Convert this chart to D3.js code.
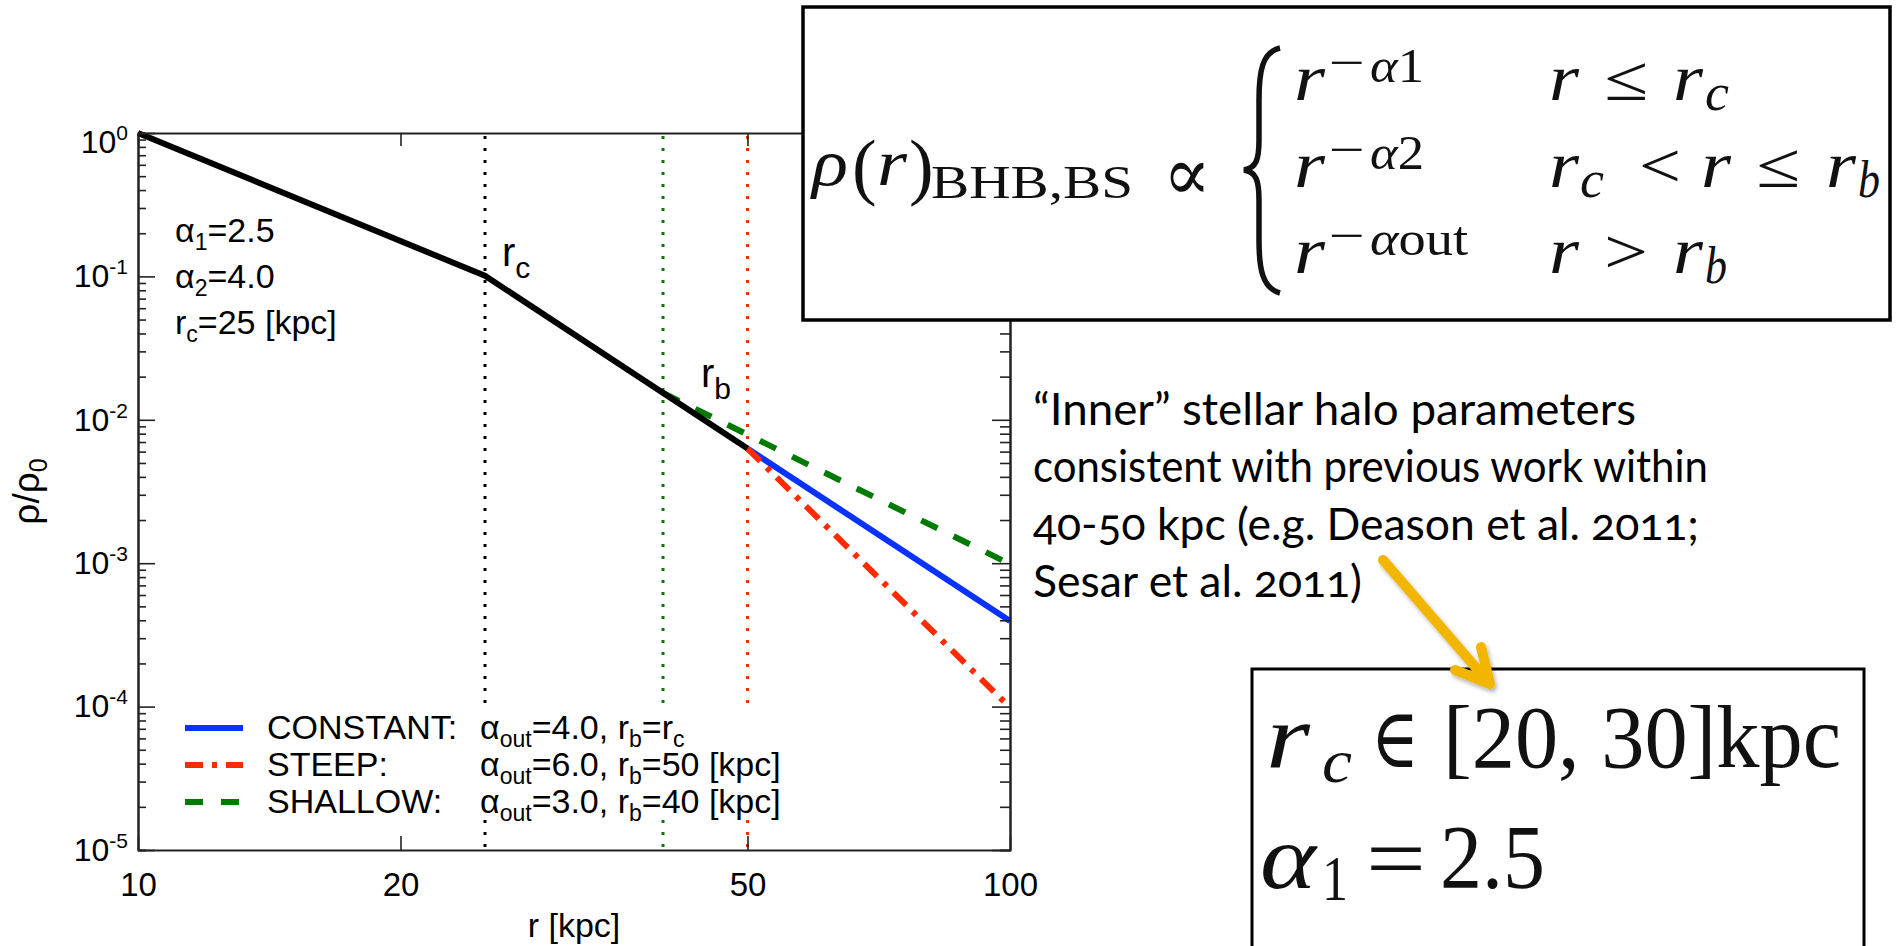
<!DOCTYPE html>
<meta charset="utf-8">
<script src="https://d3js.org/d3.v7.min.js"></script>
<style>
  body { margin: 0; background: #fff; }
  svg { display: block; }
  .sans { font-family: "Liberation Sans", Arial, sans-serif; fill: #000; }
  .math { font-family: "Liberation Serif", "DejaVu Serif", serif; fill: #111; }
  .note { font-family: Lato, "Open Sans", sans-serif; font-variant-numeric: oldstyle-nums; fill: #000; }
</style>
<div id="chart"></div>
<script>

// density profile pieces (r in kpc, rho / rho0)
const innerProfile  = [{r: 10, rho: 1}, {r: 25, rho: 0.101}, {r: 50, rho: 0.0063}];
const constantOuter = [{r: 50, rho: 0.0063}, {r: 100, rho: 0.000395}];
const steepOuter    = [{r: 50, rho: 0.0063}, {r: 100, rho: 0.0000985}];
const shallowOuter  = [{r: 40, rho: 0.0154}, {r: 100, rho: 0.000986}];

// break radii marked with dotted verticals
const breakRadii  = [25, 40, 50];
const breakColors = ["#000000", "#007a00", "#ff2a00"];

// axis ticks
const xTicks = [10, 20, 50, 100];
const yTicks = [1, 1e-1, 1e-2, 1e-3, 1e-4, 1e-5];
const yTickExp = ["0", "-1", "-2", "-3", "-4", "-5"];

// legend
const legendNames = ["CONSTANT:", "STEEP:", "SHALLOW:"];
const legendAlpha = ["4.0", "6.0", "3.0"];
const legendRb    = ["r_c", "50 [kpc]", "40 [kpc]"];
const legendColors = ["#0a32ff", "#ff2a00", "#007a00"];
const legendDash   = [null, "18,9,5,9", "18,18"];

// fit parameters written on the plot
const paramNames  = ["α|1", "α|2", "r|c"];
const paramValues = ["=2.5", "=4.0", "=25 [kpc]"];

// note text
const noteLines = [
  "\u201cInner\u201d stellar halo parameters",
  "consistent with previous work within",
  "40-50 kpc (e.g. Deason et al. 2011;",
  "Sesar et al. 2011)"
];

const W = 1900, H = 946;
const svg = d3.select("#chart").append("svg")
    .attr("width", W)
    .attr("height", H);

const x = d3.scaleLog().domain([10, 100]).range([138, 1010]);
const y = d3.scaleLog().domain([1e-5, 1]).range([850, 133]);

const plot = svg.append("g");

// dotted verticals at the break radii
plot.selectAll(".brk")
  .data(breakRadii)
  .join("line")
    .attr("x1", d => x(d)).attr("x2", d => x(d))
    .attr("y1", y(1) + 3).attr("y2", y(1e-5))
    .attr("stroke", (d, i) => breakColors[i])
    .attr("stroke-width", 3)
    .attr("stroke-dasharray", "3,9");

const line = d3.line().x(d => x(d.r)).y(d => y(d.rho));

plot.append("path").datum(constantOuter)
  .attr("d", line).attr("fill", "none")
  .attr("stroke", legendColors[0]).attr("stroke-width", 6);
plot.append("path").datum(steepOuter)
  .attr("d", line).attr("fill", "none")
  .attr("stroke", legendColors[1]).attr("stroke-width", 6)
  .attr("stroke-dasharray", legendDash[1]);
plot.append("path").datum(shallowOuter)
  .attr("d", line).attr("fill", "none")
  .attr("stroke", legendColors[2]).attr("stroke-width", 6)
  .attr("stroke-dasharray", legendDash[2]);
plot.append("path").datum(innerProfile)
  .attr("d", line).attr("fill", "none")
  .attr("stroke", "#000").attr("stroke-width", 6)
  .attr("stroke-linejoin", "round");

// legend (white box hides the dotted lines behind it)
const leg = plot.append("g");
leg.append("rect")
  .attr("x", 175).attr("y", 712).attr("width", 640).attr("height", 104)
  .attr("fill", "#fff");
legendNames.forEach((name, i) => {
  const ly = 728 + i * 37;
  leg.append("line")
    .attr("x1", 185).attr("x2", 243).attr("y1", ly).attr("y2", ly)
    .attr("stroke", legendColors[i]).attr("stroke-width", 6)
    .attr("stroke-dasharray", legendDash[i]);
  leg.append("text").attr("class", "sans")
    .attr("x", 267).attr("y", ly + 11).attr("font-size", 34)
    .text(name);
  const t = leg.append("text").attr("class", "sans")
    .attr("x", 480).attr("y", ly + 11).attr("font-size", 34);
  t.append("tspan").text("α");
  t.append("tspan").attr("font-size", 23).attr("dy", 8).text("out");
  t.append("tspan").attr("dy", -8).text("=" + legendAlpha[i] + ", r");
  t.append("tspan").attr("font-size", 23).attr("dy", 8).text("b");
  if (legendRb[i] === "r_c") {
    t.append("tspan").attr("dy", -8).text("=r");
    t.append("tspan").attr("font-size", 23).attr("dy", 8).text("c");
  } else {
    t.append("tspan").attr("dy", -8).text("=" + legendRb[i]);
  }
});

// fit parameters
paramNames.forEach((p, i) => {
  const [sym, sub] = p.split("|");
  const t = plot.append("text").attr("class", "sans")
    .attr("x", 175).attr("y", 242 + i * 46).attr("font-size", 34);
  t.append("tspan").text(sym);
  t.append("tspan").attr("font-size", 23).attr("dy", 8).text(sub);
  t.append("tspan").attr("dy", -8).text(paramValues[i]);
});

// r_c and r_b marks
function subLabel(px, py, main, sub) {
  const t = plot.append("text").attr("class", "sans")
    .attr("x", px).attr("y", py).attr("font-size", 40);
  t.append("tspan").text(main);
  t.append("tspan").attr("font-size", 30).attr("dy", 12).text(sub);
}
subLabel(x(25) + 17, y(0.101) - 10, "r", "c");
subLabel(x(40) + 38, y(0.0063) - 62, "r", "b");

// axes
const minorY = y.ticks().filter(d => !yTicks.includes(d));

const yLeft = plot.append("g").attr("transform", `translate(${x(10)},0)`);
yLeft.call(d3.axisLeft(y).tickValues(minorY).tickSize(-8).tickFormat(""));
yLeft.call(g => g.append("g").call(
  d3.axisLeft(y).tickValues(yTicks).tickSizeInner(-17).tickSizeOuter(0).tickPadding(10)
    .tickFormat(() => "10")));
yLeft.selectAll(".tick text")
  .attr("class", "sans").attr("font-size", 32).attr("fill", "#000")
  .each(function(d) {
    const i = yTicks.indexOf(d);
    if (i < 0) return;
    d3.select(this).append("tspan")
      .attr("font-size", 21).attr("dy", -13).text(yTickExp[i]);
    if (d === 1) d3.select(this).attr("y", 9);
  });

const yRight = plot.append("g").attr("transform", `translate(${x(100)},0)`);
yRight.call(d3.axisRight(y).tickValues(minorY).tickSize(-10).tickFormat(""));
yRight.call(g => g.append("g").call(
  d3.axisRight(y).tickValues(yTicks).tickSizeInner(-18).tickSizeOuter(0).tickFormat("")));

const xBottom = plot.append("g").attr("transform", `translate(0,${y(1e-5)})`);
xBottom.call(d3.axisBottom(x).tickValues(xTicks).tickSizeInner(-14).tickSizeOuter(0)
  .tickPadding(23).tickFormat(d3.format("d")));
xBottom.selectAll(".tick text")
  .attr("class", "sans").attr("font-size", 33).attr("fill", "#000");

const xTop = plot.append("g").attr("transform", `translate(0,${y(1)})`);
xTop.call(d3.axisTop(x).tickValues(xTicks).tickSizeInner(-13).tickSizeOuter(0).tickFormat(""));

plot.selectAll(".domain").attr("stroke", "#222").attr("stroke-width", 2);
plot.selectAll(".tick line").attr("stroke", "#222").attr("stroke-width", 1.6);

// axis titles
plot.append("text").attr("class", "sans")
  .attr("x", (x(10) + x(100)) / 2).attr("y", 937)
  .attr("text-anchor", "middle").attr("font-size", 34)
  .text("r [kpc]");
const yl = plot.append("text").attr("class", "sans")
  .attr("transform", `translate(39,${(y(1) + y(1e-5)) / 2}) rotate(-90)`)
  .attr("text-anchor", "middle").attr("font-size", 37);
yl.append("tspan").text("ρ/ρ");
yl.append("tspan").attr("font-size", 25).attr("dy", 8).text("0");

// ---------- formula box ----------
const fb = svg.append("g");
fb.append("rect")
  .attr("x", 803).attr("y", 7).attr("width", 1087).attr("height", 313)
  .attr("fill", "#fff").attr("stroke", "#000").attr("stroke-width", 3.5);

function m(g, px, py, str, size, opt = {}) {
  const t = g.append("text").attr("class", "math")
    .attr("x", px).attr("y", py).attr("font-size", size)
    .attr("font-style", opt.italic ? "italic" : "normal")
    .text(str);
  if (opt.len) t.attr("textLength", opt.len).attr("lengthAdjust", "spacingAndGlyphs");
  return t;
}

m(fb, 812, 185, "ρ", 66, {italic: true, len: 36});
m(fb, 852, 191, "(", 74);
m(fb, 877, 185, "r", 66, {italic: true, len: 30});
m(fb, 909, 191, ")", 74);
m(fb, 931, 198, "BHB,BS", 47, {len: 202});
m(fb, 1163, 200, "∝", 76, {len: 48});

fb.append("path")
  .attr("d", "M1280,48 C1262,52 1259,72 1259,100 L1259,140 C1259,160 1256,168 1244,170 " +
             "C1256,172 1259,180 1259,200 L1259,240 C1259,268 1262,288 1280,293")
  .attr("fill", "none").attr("stroke", "#111").attr("stroke-width", 5.5);

const rowBase = [100, 187, 273];
const rowExp  = ["1", "2", "out"];
const rowExpLen = [54, 54, 98];
rowBase.forEach((b, i) => {
  m(fb, 1294, b, "r", 66, {italic: true, len: 31});
  m(fb, 1329, b - 22, "−", 46, {len: 36});
  const t = m(fb, 1370, b - 18, "", 48, {len: rowExpLen[i]});
  t.append("tspan").attr("font-style", "italic").text("α");
  t.append("tspan").text(rowExp[i]);
});
// conditions
m(fb, 1549, 100, "r", 66, {italic: true, len: 30});
m(fb, 1604, 100, "≤", 64, {len: 44});
m(fb, 1673, 100, "r", 66, {italic: true, len: 30});
m(fb, 1705, 110, "c", 52, {italic: true, len: 24});

m(fb, 1549, 187, "r", 66, {italic: true, len: 30});
m(fb, 1580, 197, "c", 52, {italic: true, len: 24});
m(fb, 1639, 187, "<", 64, {len: 42});
m(fb, 1701, 187, "r", 66, {italic: true, len: 30});
m(fb, 1756, 187, "≤", 64, {len: 44});
m(fb, 1826, 187, "r", 66, {italic: true, len: 30});
m(fb, 1858, 197, "b", 52, {italic: true, len: 22});

m(fb, 1549, 273, "r", 66, {italic: true, len: 30});
m(fb, 1604, 273, ">", 64, {len: 44});
m(fb, 1673, 273, "r", 66, {italic: true, len: 30});
m(fb, 1705, 283, "b", 52, {italic: true, len: 22});

// ---------- note ----------
const noteEnds = [1636, 1708, 1699, 1362];
noteLines.forEach((s, i) => {
  svg.append("text").attr("class", "note")
    .attr("x", 1033).attr("y", 425 + i * 57.3).attr("font-size", 45)
    .attr("textLength", noteEnds[i] - 1033).attr("lengthAdjust", "spacingAndGlyphs")
    .text(s);
});

// ---------- second box ----------
const sb = svg.append("g");
sb.append("rect")
  .attr("x", 1252).attr("y", 669).attr("width", 612).attr("height", 400)
  .attr("fill", "#fff").attr("stroke", "#000").attr("stroke-width", 3);
m(sb, 1266, 767, "r", 90, {italic: true, len: 44});
m(sb, 1322, 782, "c", 62, {italic: true, len: 30});
m(sb, 1371, 767, "∈", 84, {len: 48});
m(sb, 1443, 767, "[20, 30]kpc", 88, {len: 398});
m(sb, 1260, 888, "α", 90, {italic: true, len: 56});
m(sb, 1322, 900, "1", 64, {len: 26});
m(sb, 1366, 888, "=", 88, {len: 60});
m(sb, 1440, 888, "2.5", 90, {len: 105});
m(sb, 1260, 1008, "α", 90, {italic: true, len: 56});
m(sb, 1322, 1020, "2", 64, {len: 28});
m(sb, 1371, 1008, "∈", 84, {len: 48});
m(sb, 1443, 1008, "[3.5, 4.5]", 88, {len: 300});

// ---------- arrow ----------
const defs = svg.append("defs");
const f = defs.append("filter").attr("id", "sh").attr("x", "-20%").attr("y", "-20%")
  .attr("width", "140%").attr("height", "140%");
f.append("feDropShadow").attr("dx", 2).attr("dy", 3).attr("stdDeviation", 2)
  .attr("flood-color", "#000").attr("flood-opacity", 0.3);
svg.append("path")
  .attr("d", "M1383,560 L1490,684 M1455,670 L1490,684 L1481,647")
  .attr("fill", "none").attr("stroke", "#f2b600").attr("stroke-width", 10)
  .attr("stroke-linecap", "round").attr("stroke-linejoin", "round")
  .attr("filter", "url(#sh)");

</script>
